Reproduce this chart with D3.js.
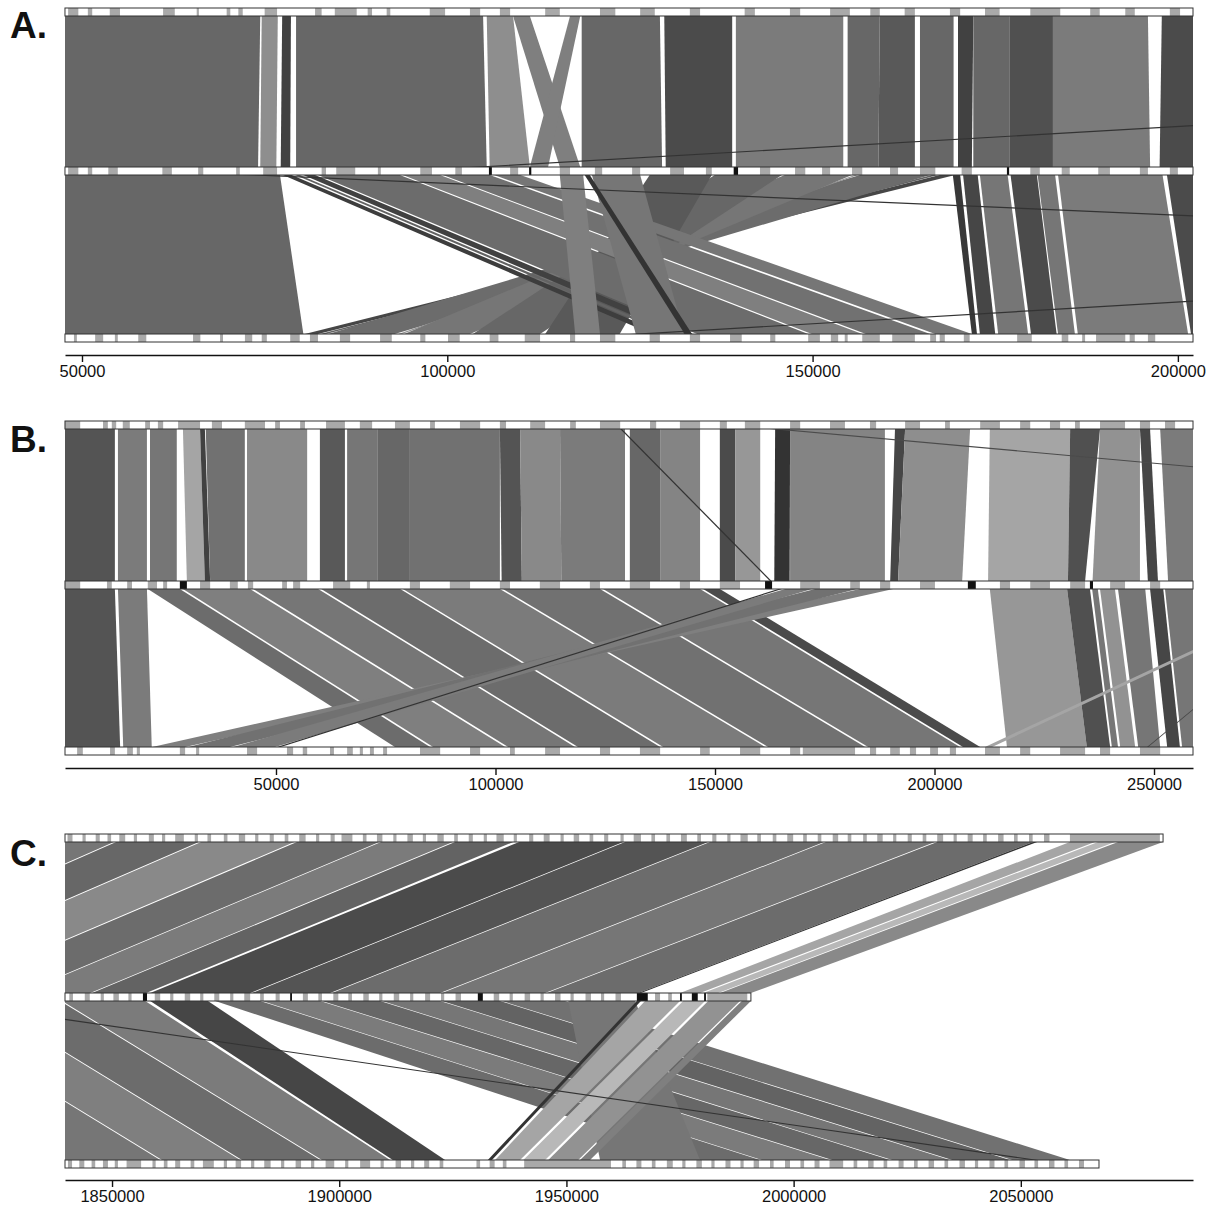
<!DOCTYPE html>
<html>
<head>
<meta charset="utf-8">
<script src="https://cdn.jsdelivr.net/npm/d3@7/dist/d3.min.js"></script>
<style>
  body { margin: 0; background: #fff; }
  svg text { font-family: "Liberation Sans", Arial, Helvetica, sans-serif; }
</style>
</head>
<body>
<svg id="chart" width="1221" height="1209"></svg>
<script>
// ---- data (positions in kb, ident = % identity of the match) ----
// ribbon: [topStart, topEnd, lowerStart, lowerEnd, ident]
var ticksA = [50000, 100000, 150000, 200000];
var ticksB = [50000, 100000, 150000, 200000, 250000];
var ticksC = [1850000, 1900000, 1950000, 2000000, 2050000];

var spanA = [[47.67, 202.07], [47.67, 202.07], [47.67, 202.07]];
var spanB = [[1.94, 258.88], [1.94, 258.88], [1.94, 258.88]];
var spanC = [[1839.65, 2081.3], [1839.65, 1990.6], [1839.65, 2067.2]];

var ribA1 = [
  [47.0, 74.4, 47.0, 74.1, 89], [74.6, 76.8, 74.4, 76.6, 81], [77.4, 78.6, 77.2, 78.5, 97],
  [79.3, 104.9, 79.3, 105.4, 89], [105.4, 109.0, 105.8, 111.3, 81],
  [109.0, 111.3, 115.4, 118.2, 84], [116.8, 118.2, 111.3, 113.8, 84],
  [118.4, 129.1, 118.4, 129.4, 89], [129.7, 139.0, 129.9, 139.0, 95],
  [139.5, 154.2, 139.5, 154.2, 85], [154.8, 159.2, 154.8, 159.0, 89],
  [159.2, 164.0, 159.0, 164.0, 92], [164.7, 169.3, 164.7, 169.3, 89],
  [169.9, 172.0, 169.9, 171.8, 97], [172.0, 177.0, 172.0, 177.0, 89],
  [177.0, 182.9, 177.0, 182.9, 94], [182.9, 195.9, 182.9, 196.2, 85],
  [197.8, 203.0, 197.5, 203.0, 95],
  [458.9, 461.7, 103.0, 105.8, 100]
];
var ribA2 = [
  [47.0, 77.1, 47.0, 80.3, 89],
  [167.4, 169.5, 80.5, 82.3, 96], [166.3, 167.2, 82.6, 83.4, 90], [156.5, 166.1, 83.7, 92.8, 88],
  [155.8, 156.2, 93.3, 93.8, 80], [146.2, 155.4, 94.1, 103.1, 86], [136.6, 145.8, 103.5, 112.7, 89],
  [127.7, 136.2, 113.4, 123.6, 92],
  [77.5, 78.7, 128.0, 129.7, 98], [79.2, 79.8, 130.1, 131.0, 90], [80.3, 81.9, 131.4, 133.6, 97],
  [82.3, 93.5, 134.2, 149.4, 88], [93.9, 99.0, 149.9, 156.8, 84], [99.4, 105.8, 157.3, 166.1, 87],
  [106.4, 110.0, 166.8, 171.8, 86],
  [115.4, 118.6, 117.5, 120.9, 84], [119.8, 126.4, 125.8, 132.4, 86], [118.8, 119.5, 132.5, 133.5, 100],
  [169.2, 170.2, 171.8, 172.5, 99], [170.6, 172.6, 172.9, 175.0, 96], [172.9, 176.7, 175.4, 179.5, 86],
  [177.1, 180.7, 179.9, 183.4, 95], [180.8, 183.2, 183.6, 185.9, 86], [183.6, 197.9, 186.3, 201.4, 85],
  [198.5, 203.0, 201.8, 203.0, 95],
  [71.9, 75.7, 571.6, 575.4, 100], [492.2, 495.0, 124.9, 127.7, 100]
];
var ribB1 = [
  [1.0, 13.3, 1.0, 13.3, 93], [14.0, 20.6, 14.0, 20.6, 85], [21.3, 27.4, 21.3, 27.4, 86],
  [28.8, 32.7, 29.7, 33.8, 76], [32.7, 33.8, 33.8, 35.0, 97], [34.0, 42.9, 35.0, 42.9, 87],
  [43.4, 57.1, 43.4, 57.1, 82], [60.0, 65.7, 60.0, 65.7, 92], [66.2, 73.2, 66.2, 73.2, 86],
  [73.2, 80.5, 73.2, 80.5, 89], [80.5, 101.0, 80.5, 101.0, 87], [101.0, 105.6, 101.4, 106.0, 93],
  [105.6, 114.7, 106.0, 115.0, 82], [114.7, 129.5, 115.0, 129.5, 85], [130.6, 137.5, 130.6, 137.5, 89],
  [137.5, 146.6, 137.5, 146.6, 83], [151.1, 154.6, 151.1, 154.6, 95], [154.6, 160.3, 154.6, 160.3, 79],
  [163.7, 167.1, 163.5, 167.0, 100], [167.1, 188.7, 167.1, 188.7, 83], [191.0, 193.3, 189.9, 191.7, 96],
  [193.3, 208.1, 191.7, 206.3, 81], [212.6, 230.9, 212.2, 230.4, 76], [230.9, 237.7, 230.4, 234.3, 94],
  [237.7, 246.8, 236.0, 246.8, 80], [246.8, 249.1, 248.6, 250.9, 96], [251.4, 260.0, 253.2, 260.0, 85],
  [128.4, 128.8, 162.5, 162.9, 100], [162.5, 165.3, 544.8, 547.6, 95]
];
var ribB2 = [
  [1.0, 13.3, 1.0, 14.5, 93], [14.0, 20.6, 15.2, 21.7, 85],
  [20.8, 28.1, 77.1, 85.1, 88], [28.8, 44.1, 85.8, 102.2, 84], [44.8, 59.6, 102.9, 118.1, 86],
  [60.3, 78.3, 118.8, 137.5, 88], [78.9, 101.0, 138.2, 161.4, 85], [101.7, 123.8, 162.1, 184.2, 87],
  [124.5, 146.6, 184.9, 205.8, 86], [147.3, 151.1, 206.5, 210.4, 95],
  [183.0, 190.6, 21.8, 29.3, 84], [172.8, 182.4, 30.0, 39.5, 87], [166.0, 172.1, 40.2, 49.8, 85],
  [164.4, 165.3, 50.2, 51.1, 100],
  [212.6, 230.2, 216.5, 234.7, 79], [230.2, 235.4, 234.7, 240.0, 94], [235.9, 237.2, 240.4, 241.8, 86],
  [237.7, 241.1, 242.3, 245.7, 80], [241.8, 248.0, 246.4, 251.4, 86], [249.1, 252.1, 253.0, 255.9, 96],
  [252.5, 260.0, 256.4, 260.0, 86], [288.7, 290.3, 211.5, 213.1, 76],
  [291.9, 292.2, 248.4, 248.7, 96]
];
var ribC1 = [
  [1827.1, 1850.4, 1752.7, 1774.7, 86], [1850.9, 1869.1, 1775.2, 1792.3, 89],
  [1869.6, 1890.1, 1792.8, 1812.2, 82], [1890.7, 1908.8, 1812.6, 1829.8, 88],
  [1909.2, 1925.0, 1830.2, 1845.2, 85], [1925.5, 1938.3, 1845.6, 1857.5, 90],
  [1939.6, 1962.5, 1858.4, 1880.4, 95], [1962.9, 1981.2, 1880.8, 1898.0, 93],
  [1981.6, 2006.7, 1898.4, 1922.2, 88], [2007.1, 2031.1, 1922.6, 1945.3, 86],
  [2031.6, 2052.7, 1945.7, 1965.8, 88], [2052.7, 2053.6, 1965.8, 1966.4, 100],
  [2060.8, 2066.3, 1975.0, 1979.4, 76], [2067.0, 2070.7, 1980.1, 1983.4, 72],
  [2071.4, 2081.3, 1983.8, 1990.6, 82]
];
var ribC2 = [
  [1782.4, 1803.3, 1839.0, 1860.6, 86], [1803.8, 1821.0, 1861.0, 1878.2, 84],
  [1821.4, 1838.6, 1878.6, 1895.8, 88], [1839.0, 1857.3, 1896.2, 1911.2, 85],
  [1858.4, 1871.1, 1911.8, 1923.3, 96],
  [1872.7, 1882.6, 1979.4, 1992.6, 88], [1883.0, 1895.8, 1993.0, 2008.0, 85],
  [1896.2, 1909.0, 2008.5, 2021.2, 89], [1909.4, 1922.2, 2021.7, 2034.4, 86],
  [1922.6, 1935.4, 2034.9, 2047.6, 90], [1935.8, 1949.7, 2048.1, 2060.8, 87],
  [1950.4, 1965.1, 1957.4, 1979.4, 86],
  [1965.5, 1966.4, 1932.7, 1933.6, 100], [1967.3, 1975.0, 1934.3, 1939.8, 76],
  [1975.7, 1980.5, 1940.5, 1945.3, 72], [1981.2, 1988.2, 1946.0, 1952.6, 80],
  [1988.6, 1990.6, 1953.0, 1955.2, 84],
  [1811.0, 1812.6, 2052.2, 2053.8, 100]
];

// gene blocks on each genome bar, [start, end] in kb
var genesA1 = [[48.1,49.5],[50.8,51.4],[53.8,55.2],[61.1,62.7],[65.7,66.0],[69.8,70.3],[71.4,72.0],[75.0,76.7],[81.9,82.8],[84.6,87.6],[89.1,89.7],[91.7,92.2],[97.6,99.7],[103.1,104.5],[107.2,108.6],[113.4,115.4],[120.9,123.0],[126.4,128.4],[133.2,134.6],[140.7,142.1],[146.9,148.3],[152.4,155.1],[157.9,159.2],[162.6,164.0],[168.8,170.2],[173.6,175.6],[179.8,183.9],[188.0,189.3],[192.8,194.1],[198.9,200.3]];
var genesA2 = [[48.1,49.5],[50.8,51.4],[53.6,54.9],[61.0,62.3],[65.9,66.6],[71.1,71.6],[74.8,76.7],[82.8,83.4],[84.8,87.4],[90.5,90.9],[96.3,97.9],[101.1,102.0],[108.6,109.7],[115.4,116.8],[120.2,121.2],[125.3,126.4],[130.5,132.4],[135.4,136.2],[142.8,144.2],[147.6,149.0],[151.3,152.4],[155.4,156.8],[160.6,161.7],[164.7,166.8],[170.4,171.8],[179.8,181.1],[184.1,185.2],[189.1,190.7],[194.8,195.9],[198.9,200.0]];
var genesA3 = [[48.9,49.3],[51.8,52.9],[54.5,54.9],[57.7,58.8],[65.2,66.2],[68.9,69.3],[72.3,73.3],[74.6,75.3],[78.5,79.8],[81.2,82.3],[85.3,86.7],[90.8,92.4],[96.3,97.0],[100.1,101.7],[105.8,107.0],[110.6,112.7],[116.8,117.5],[120.9,123.0],[127.7,129.1],[133.2,134.6],[138.7,140.3],[144.2,144.9],[149.4,151.0],[152.5,153.5],[154.4,154.8],[156.8,159.2],[160.9,164.0],[166.1,166.9],[167.4,168.1],[170.7,171.5],[178.0,180.0],[184.1,185.0],[186.9,187.3],[188.8,192.8],[193.4,194.1],[195.9,196.9]];
var blackA2 = [[105.7,106.1],[111.2,111.5],[139.2,139.8],[176.6,176.9]];

var genesB1 = [[1.9,5.4],[10.6,11.7],[12.6,13.6],[15.1,16.7],[20.2,21.3],[23.1,24.3],[27.7,32.7],[35.4,37.7],[42.9,47.5],[49.8,50.9],[55.5,56.6],[61.4,65.7],[69.1,71.9],[77.1,80.5],[85.1,86.2],[91.9,96.5],[101.0,102.4],[107.9,111.3],[117.0,118.3],[123.8,128.4],[135.2,136.6],[142.0,146.6],[151.1,152.7],[156.8,160.3],[167.1,169.4],[176.2,179.6],[185.3,186.7],[193.3,196.7],[202.4,203.5],[210.4,214.9],[219.5,221.8],[226.3,228.6],[232.0,233.1],[237.7,243.4],[246.8,249.1],[252.5,254.8]];
var genesB2 = [[1.9,5.4],[11.5,12.6],[16.1,17.2],[20.8,22.9],[24.3,25.2],[32.7,35.0],[39.5,41.3],[43.6,44.8],[51.4,52.5],[53.9,55.5],[63.0,66.9],[70.7,71.4],[80.5,82.8],[89.6,94.2],[101.0,103.3],[110.1,114.7],[121.5,123.8],[130.6,135.2],[142.0,144.3],[151.1,155.7],[169.4,173.9],[180.8,183.0],[187.6,189.9],[196.7,200.1],[214.9,217.2],[221.8,226.3],[230.9,234.3],[240.0,243.4],[249.1,251.4]];
var genesB3 = [[4.7,6.0],[12.2,13.3],[16.1,17.4],[18.3,19.0],[28.1,29.3],[31.8,32.5],[43.4,45.7],[52.5,53.9],[56.1,57.1],[62.3,63.2],[66.2,67.5],[69.1,69.8],[71.4,72.3],[74.4,75.3],[82.8,87.4],[94.2,96.5],[103.3,104.4],[111.3,114.7],[123.8,126.1],[132.9,137.5],[146.6,148.8],[155.7,160.3],[167.1,169.4],[170.0,181.9],[185.3,186.7],[189.9,192.1],[194.4,195.8],[199.0,200.8],[203.5,204.9],[211.5,214.9],[219.5,221.8],[228.6,234.3],[237.7,240.0],[246.8,251.4]];
var blackB2 = [[28.1,29.7],[161.4,163.0],[207.6,209.4],[235.4,236.1]];

var genesC1 = [[1840.2,1841.3],[1843.5,1844.2],[1846.4,1847.3],[1849.0,1849.8],[1851.6,1852.9],[1854.8,1855.5],[1858.1,1859.2],[1861.0,1861.7],[1863.9,1865.8],[1868.2,1868.9],[1871.0,1871.8],[1874.6,1875.4],[1877.9,1879.3],[1881.5,1882.2],[1884.7,1885.6],[1888.0,1888.8],[1891.2,1892.6],[1894.9,1895.6],[1898.1,1899.0],[1900.5,1902.9],[1905.2,1906.0],[1908.3,1909.5],[1911.9,1912.6],[1915.0,1916.2],[1918.4,1919.1],[1921.6,1923.0],[1925.3,1926.1],[1928.5,1929.4],[1931.8,1932.5],[1934.6,1936.2],[1938.4,1939.1],[1941.8,1942.7],[1945.0,1946.3],[1948.7,1949.4],[1951.6,1952.8],[1955.1,1955.9],[1958.3,1959.2],[1961.9,1962.6],[1964.8,1966.4],[1968.7,1969.5],[1972.0,1972.8],[1975.2,1976.5],[1978.8,1979.6],[1982.1,1983.0],[1985.4,1986.1],[1988.3,1989.9],[1992.0,1992.8],[1995.4,1996.2],[1998.6,1999.9],[2002.1,2002.9],[2005.3,2006.1],[2008.6,2009.8],[2011.9,2012.7],[2015.3,2016.1],[2018.4,2019.6],[2021.9,2022.6],[2025.1,2026.0],[2028.4,2029.2],[2031.6,2032.9],[2035.2,2035.9],[2038.3,2039.4],[2041.7,2042.5],[2045.0,2046.2],[2048.5,2049.3],[2051.8,2052.6],[2055.1,2056.3],[2060.8,2080.6]];
var genesC2 = [[1840.6,1841.4],[1844.0,1845.1],[1847.5,1848.2],[1850.3,1851.5],[1853.6,1854.3],[1859.4,1860.6],[1862.8,1863.5],[1866.0,1867.2],[1869.4,1870.1],[1872.5,1873.6],[1876.0,1876.7],[1879.1,1880.4],[1882.6,1883.4],[1886.0,1886.9],[1892.0,1893.1],[1895.4,1896.2],[1898.7,1899.8],[1902.0,1902.8],[1905.3,1906.5],[1908.8,1909.5],[1912.0,1913.2],[1915.6,1916.3],[1918.9,1920.0],[1922.4,1923.1],[1925.6,1926.8],[1934.0,1935.2],[1937.5,1938.2],[1940.8,1942.0],[1944.3,1945.0],[1947.5,1948.7],[1950.9,1951.6],[1954.2,1955.4],[1957.6,1958.3],[1960.8,1962.0],[1969.5,1970.6],[1972.4,1973.2],[1981.0,1989.8]];
var genesC3 = [[1840.3,1841.2],[1842.8,1843.9],[1845.5,1846.3],[1848.0,1849.1],[1850.6,1851.3],[1853.2,1856.4],[1858.9,1859.6],[1861.4,1862.2],[1863.9,1865.0],[1867.3,1868.1],[1870.0,1872.4],[1874.6,1875.3],[1877.2,1878.4],[1880.6,1881.3],[1883.5,1884.9],[1887.2,1887.9],[1890.4,1891.6],[1893.8,1894.5],[1897.0,1898.9],[1901.3,1902.0],[1904.6,1906.8],[1909.1,1909.8],[1912.4,1913.6],[1915.8,1916.5],[1918.7,1919.8],[1922.1,1922.9],[1930.2,1931.0],[1933.1,1934.2],[1936.0,1936.8],[1940.7,1959.8],[1962.3,1963.1],[1965.4,1966.5],[1968.8,1969.6],[1972.1,1973.4],[1975.5,1976.2],[1978.6,1979.8],[1981.9,1982.6],[1985.0,1986.1],[1988.3,1989.0],[1991.2,1992.4],[1994.8,1995.6],[1998.1,1999.2],[2001.5,2002.3],[2004.6,2005.7],[2007.9,2010.9],[2013.2,2014.0],[2016.4,2017.6],[2019.8,2020.6],[2023.1,2024.2],[2026.5,2027.3],[2029.7,2030.9],[2033.2,2034.0],[2036.5,2037.7],[2039.9,2040.6],[2043.1,2044.2],[2046.4,2047.2],[2049.7,2050.9],[2053.0,2053.8],[2056.2,2057.4],[2059.6,2060.4],[2062.8,2063.9]];
var blackC2 = [[1856.8,1857.7],[1889.2,1889.6],[1930.5,1931.6],[1965.5,1967.9],[1975.0,1975.4],[1977.6,1978.9],[1980.3,1980.7]];

// ---- layout ----
var left = 65, right = 1193, barH = 8;
var panels = [
  { label: "A.", labelY: 38, tracks: [8, 167, 334], axisY: 355, dom: [47674, 202070], ticks: ticksA,
    spans: spanA, ribbons: [ribA1, ribA2], genes: [genesA1, genesA2, genesA3], black: [[], blackA2, []] },
  { label: "B.", labelY: 452, tracks: [421, 581, 747], axisY: 768, dom: [1940, 258880], ticks: ticksB,
    spans: spanB, ribbons: [ribB1, ribB2], genes: [genesB1, genesB2, genesB3], black: [[], blackB2, []] },
  { label: "C.", labelY: 866, tracks: [834, 993, 1160], axisY: 1180, dom: [1839650, 2087890], ticks: ticksC,
    spans: spanC, ribbons: [ribC1, ribC2], genes: [genesC1, genesC2, genesC3], black: [[], blackC2, []] }
];

var shade = d3.scaleLinear().domain([70, 100]).range(["#c2c2c2", "#333333"]).clamp(true);
var svg = d3.select("#chart");
var defs = svg.append("defs");

panels.forEach(function(p, pi) {
  var x = d3.scaleLinear().domain(p.dom).range([left, right]);
  var kx = function(k) { return x(k * 1000); };
  var g = svg.append("g");

  // ribbons between bars
  p.ribbons.forEach(function(rows, si) {
    var y0 = p.tracks[si] + barH, y1 = p.tracks[si + 1];
    var id = "clip" + pi + "_" + si;
    defs.append("clipPath").attr("id", id).append("rect")
      .attr("x", left).attr("y", y0).attr("width", right - left).attr("height", y1 - y0);
    g.append("g").attr("clip-path", "url(#" + id + ")")
      .selectAll("path").data(rows).enter().append("path")
      .attr("d", function(r) {
        var path = d3.path();
        path.moveTo(kx(r[0]), y0);
        path.lineTo(kx(r[1]), y0);
        path.lineTo(kx(r[3]), y1);
        path.lineTo(kx(r[2]), y1);
        path.closePath();
        return path.toString();
      })
      .attr("fill", function(r) { return shade(r[4]); });
  });

  // genome bars
  p.tracks.forEach(function(ty, ti) {
    var span = p.spans[ti];
    var tg = g.append("g");
    tg.append("rect").attr("x", kx(span[0])).attr("y", ty)
      .attr("width", kx(span[1]) - kx(span[0])).attr("height", barH).attr("fill", "#fff");
    tg.selectAll("rect.gene").data(p.genes[ti]).enter().append("rect").attr("class", "gene")
      .attr("x", function(d) { return kx(d[0]); }).attr("y", ty)
      .attr("width", function(d) { return Math.max(1, kx(d[1]) - kx(d[0])); })
      .attr("height", barH).attr("fill", "#a9a9a9");
    tg.selectAll("rect.blk").data(p.black[ti]).enter().append("rect").attr("class", "blk")
      .attr("x", function(d) { return kx(d[0]); }).attr("y", ty)
      .attr("width", function(d) { return Math.max(1.5, kx(d[1]) - kx(d[0])); })
      .attr("height", barH).attr("fill", "#111");
    tg.append("rect").attr("x", kx(span[0])).attr("y", ty)
      .attr("width", kx(span[1]) - kx(span[0])).attr("height", barH)
      .attr("fill", "none").attr("stroke", "#333").attr("stroke-width", 1);
  });

  // axis
  var ax = g.append("g").attr("transform", "translate(0," + p.axisY + ")")
    .call(d3.axisBottom(x).tickValues(p.ticks).tickSize(7).tickSizeOuter(0)
      .tickPadding(3).tickFormat(d3.format("d")));
  ax.select(".domain").attr("stroke", "#111").attr("stroke-width", 1.4);
  ax.selectAll(".tick line").attr("stroke", "#111").attr("stroke-width", 1.4);
  ax.selectAll(".tick text").attr("font-size", 16.5).attr("fill", "#111")
    .attr("font-family", "'Liberation Sans', Arial, sans-serif");

  g.append("text").attr("x", 10).attr("y", p.labelY).text(p.label)
    .attr("font-size", 37).attr("font-weight", "bold").attr("fill", "#111");
});
</script>
</body>
</html>
